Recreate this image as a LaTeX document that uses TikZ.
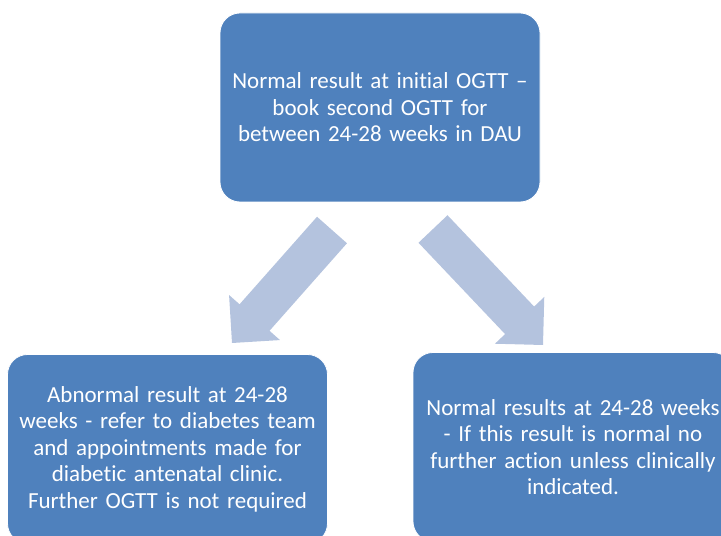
\documentclass[tikz,border=0pt]{standalone}
\usepackage{fontspec}
\setmainfont{Carlito}[Ligatures={TeX,NoCommon}]
\usepackage{xcolor}
\usetikzlibrary{calc}
\definecolor{boxblue}{RGB}{79,129,189}
\definecolor{arrowblue}{RGB}{180,195,222}
\newcommand{\flowarrow}[2]{%
  \coordinate (head) at ($(#2)!34pt!(#1)$);
  \fill[arrowblue] ($(#1)!20pt!90:(#2)$) -- ($(head)!20pt!90:(#2)$) -- ($(head)!34pt!90:(#2)$) -- (#2)
    -- ($(head)!34pt!-90:(#2)$) -- ($(head)!20pt!-90:(#2)$) -- ($(#1)!20pt!-90:(#2)$) -- cycle;}

\begin{document}
\begin{tikzpicture}[x=1pt,y=1pt,
  stepbox/.style={rectangle,rounded corners=20pt,fill=boxblue,draw=white,line width=0.8pt,
    minimum width=320pt,minimum height=189pt,text width=310pt,align=center,text=white,
    inner sep=0pt,font=\fontsize{23}{26.5}\selectfont}]

\clip (0,0) rectangle (721,536);

\node[stepbox] (initial) at (380,428.5) {Normal result at initial OGTT –\\book second OGTT for\\between 24-28 weeks in DAU};
\node[stepbox] (abnormal) at (167.5,87) {Abnormal result at 24-28\\weeks - refer to diabetes team\\and appointments made for\\diabetic antenatal clinic.\\Further OGTT is not required};
\node[stepbox] (normal) at (573,89) {Normal results at 24-28 weeks\\- If this result is normal no\\further action unless clinically\\indicated.};

\coordinate (ltail) at (332,306);
\coordinate (ltip) at (232,193);
\coordinate (rtail) at (433,307);
\coordinate (rtip) at (543,191);
\flowarrow{ltail}{ltip}
\flowarrow{rtail}{rtip}

\end{tikzpicture}
\end{document}
